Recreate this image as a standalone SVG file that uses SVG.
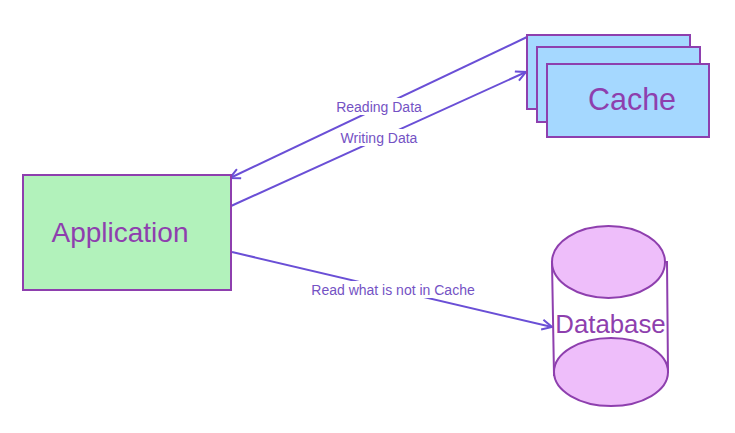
<svg xmlns="http://www.w3.org/2000/svg" width="735" height="433" viewBox="0 0 735 433">
<style>
.node{stroke:#8e3fae;stroke-width:2}
.ntext{font-family:"Liberation Sans",Arial,sans-serif;fill:#8e3fae}
.conn{stroke:#6a4fd6;stroke-width:2;fill:none}
.lbl{font-family:"Liberation Sans",Arial,sans-serif;font-size:14px;fill:#7452c4;text-anchor:middle}
</style>
<defs>
<marker id="arr" viewBox="0 0 12 12" refX="11" refY="6" markerWidth="12" markerHeight="12" markerUnits="userSpaceOnUse" orient="auto">
<path d="M1,1 L11,6 L1,11" fill="none" stroke="#6a4fd6" stroke-width="2"/>
</marker>
</defs>
<rect width="735" height="433" fill="#ffffff"/>
<g id="connectors">
<line class="conn" x1="527" y1="37" x2="230" y2="178" marker-end="url(#arr)"/>
<line class="conn" x1="231" y1="206" x2="526" y2="72" marker-end="url(#arr)"/>
<line class="conn" x1="232" y1="252" x2="552" y2="327" marker-end="url(#arr)"/>
<rect x="332" y="98" width="94" height="17" fill="#ffffff"/>
<text class="lbl" x="379" y="112">Reading Data</text>
<rect x="336" y="129" width="86" height="17" fill="#ffffff"/>
<text class="lbl" x="379" y="143">Writing Data</text>
<rect x="306" y="281" width="174" height="17" fill="#ffffff"/>
<text class="lbl" x="393" y="295">Read what is not in Cache</text>
</g>
<g id="application">
<rect class="node" x="23" y="175" width="208" height="115" fill="#b2f2bb"/>
<text class="ntext" x="120" y="242" font-size="28" text-anchor="middle">Application</text>
</g>
<g id="cache">
<rect class="node" x="527" y="35" width="163" height="74" fill="#a5d8ff"/>
<rect class="node" x="537" y="47" width="163" height="75" fill="#a5d8ff"/>
<rect class="node" x="547" y="64" width="162" height="73" fill="#a5d8ff"/>
<text class="ntext" x="632" y="110" font-size="30.5" text-anchor="middle">Cache</text>
</g>
<g id="database">
<path class="node" d="M552,262 L554,375 L668,372 L667,262 Z" fill="#ffffff"/>
<ellipse class="node" cx="611" cy="372" rx="57" ry="34" fill="#eebefa"/>
<ellipse class="node" cx="608.5" cy="262" rx="56.5" ry="36" fill="#eebefa"/>
<text class="ntext" x="610.5" y="333" font-size="25.8" text-anchor="middle">Database</text>
</g>
</svg>
